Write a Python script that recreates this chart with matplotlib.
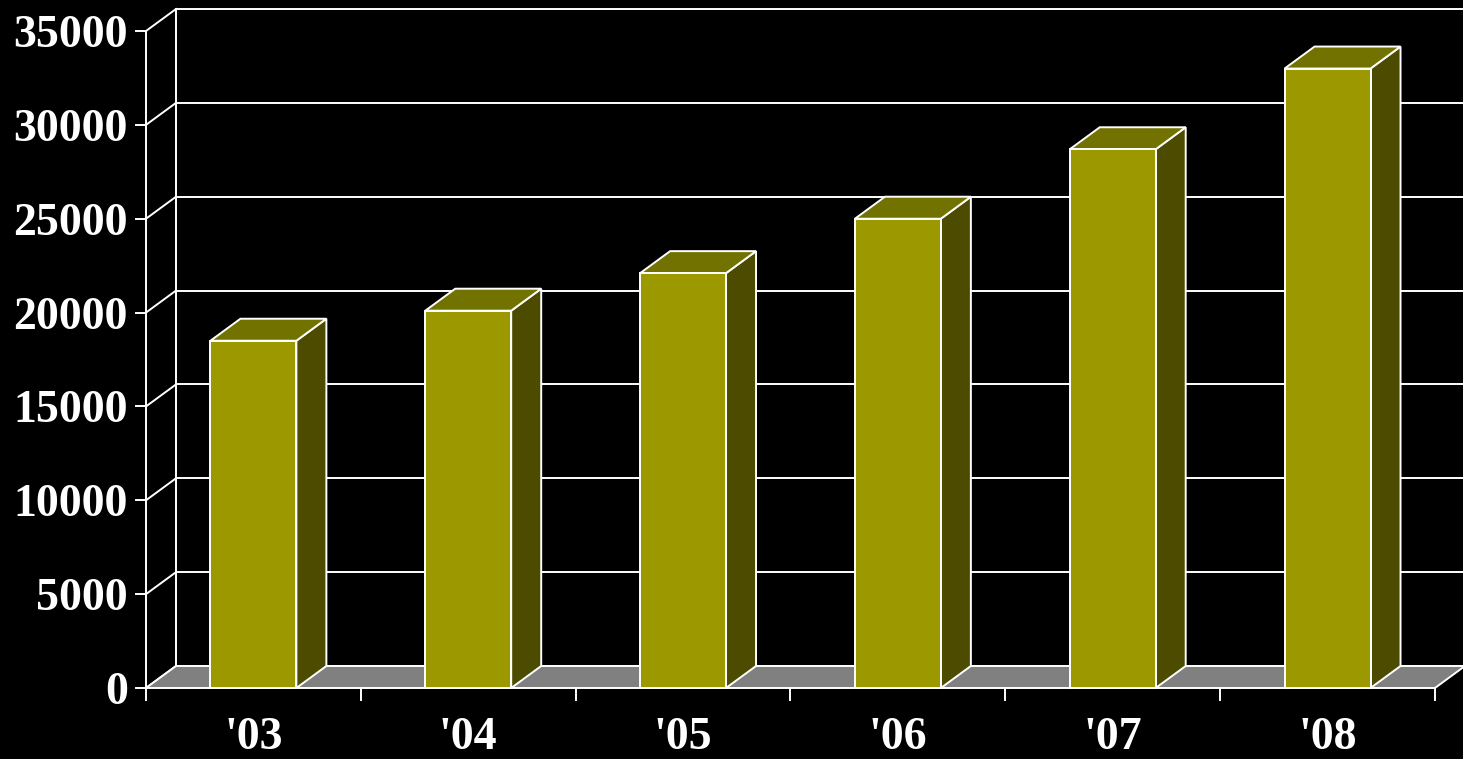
"""3D 风格柱状图：'03-'08 年度数据（黑底、橄榄色立体柱）。"""

import matplotlib
matplotlib.use("Agg")
import matplotlib.pyplot as plt
from matplotlib.patches import Polygon

plt.rcParams.update({
    "figure.dpi": 100,
    "font.family": ["Liberation Serif", "DejaVu Serif"],
    "font.weight": "bold",
})

# ── 数据 ──────────────────────────────────────────────
years = ["'03", "'04", "'05", "'06", "'07", "'08"]
values = [18500, 20100, 22100, 25000, 28700, 33000]
y_ticks = [0, 5000, 10000, 15000, 20000, 25000, 30000, 35000]

# ── 版式（像素） ─────────────────────────────────────
W, H = 1463, 759
X0_PX = 146            # 前平面 x=0 的位置
CAT_PX = 214.83        # 每个类别宽度
Y0_PX = 688            # 前平面 0 值位置（自上而下）
PPU = 657 / 35000      # 每单位数值对应的像素
DEPTH_X, DEPTH_Y = 30, 22

FRONT = "#9c9900"
TOP = "#727200"
SIDE = "#4c4b00"
FLOOR = "#808080"
LINE = "white"
LW = 1.4

dx = DEPTH_X / CAT_PX
dy = DEPTH_Y / PPU
px_x = 1 / CAT_PX
px_y = 1 / PPU
n = len(years)
vmax = y_ticks[-1]

fig = plt.figure(figsize=(W / 100, H / 100), facecolor="black")
ax = fig.add_axes([0, 0, 1, 1])
ax.set_facecolor("black")
ax.set_xlim(-X0_PX * px_x, (W - X0_PX) * px_x)
ax.set_ylim(-(H - Y0_PX) * px_y, Y0_PX * px_y)
ax.axis("off")

# 背墙网格线与左侧墙
for v in y_ticks:
    ax.plot([dx, n + dx], [v + dy, v + dy], color=LINE, lw=LW, zorder=1)
    ax.plot([0, dx], [v, v + dy], color=LINE, lw=LW, zorder=1)
    ax.plot([-10 * px_x, 0], [v, v], color=LINE, lw=LW, zorder=1)
    ax.text(-18 * px_x, v - 16 * px_y, f"{v}", color="white", fontsize=33,
            fontweight="bold", ha="right", va="baseline")
ax.plot([dx, dx], [dy, vmax + dy], color=LINE, lw=LW, zorder=1)
ax.plot([0, 0], [0, vmax], color=LINE, lw=LW, zorder=1)

# 地板
ax.add_patch(Polygon([(0, 0), (n, 0), (n + dx, dy), (dx, dy)], closed=True,
                     facecolor=FLOOR, edgecolor=LINE, lw=LW, zorder=2))

# x 轴刻度
for i in range(n + 1):
    ax.plot([i, i], [0, -12 * px_y], color=LINE, lw=LW, zorder=2)
for i, lab in enumerate(years):
    ax.text(i + 0.5, -61 * px_y, lab, color="white", fontsize=33,
            fontweight="bold", ha="center", va="baseline")

# 立体柱
half = 0.2
for i, v in enumerate(values):
    x1, x2 = i + 0.5 - half, i + 0.5 + half
    front = [(x1, 0), (x2, 0), (x2, v), (x1, v)]
    top = [(x1, v), (x2, v), (x2 + dx, v + dy), (x1 + dx, v + dy)]
    side = [(x2, 0), (x2 + dx, dy), (x2 + dx, v + dy), (x2, v)]
    for pts, c in ((side, SIDE), (top, TOP), (front, FRONT)):
        ax.add_patch(Polygon(pts, closed=True, facecolor=c, edgecolor=LINE,
                             lw=LW, joinstyle="miter", zorder=3))

fig.savefig("out.png", facecolor="black")
